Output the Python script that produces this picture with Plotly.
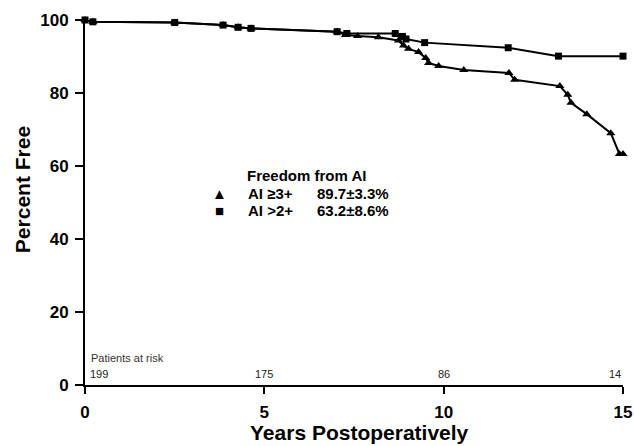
import plotly.graph_objects as go

# Square-marker curve
sq_years = [0, 0.22, 2.5, 3.85, 4.27, 4.63, 7.03, 7.3, 8.65, 8.85, 8.95, 9.47, 11.8, 13.2, 15.0]
sq_free = [100, 99.5, 99.3, 98.6, 98.0, 97.7, 96.8, 96.3, 96.3, 95.5, 94.8, 93.8, 92.4, 90.1, 90.1]

# Triangle-marker curve
tri_years = [0, 0.22, 2.5, 3.85, 4.27, 4.63, 7.03, 7.26, 7.6, 8.18, 8.74, 8.88, 9.02, 9.30,
             9.50, 9.58, 9.86, 10.56, 11.82, 11.98, 13.24, 13.46, 13.55, 13.99, 14.66, 14.9, 15.0]
tri_free = [100, 99.5, 99.3, 98.6, 98.0, 97.7, 96.8, 95.9, 95.6, 95.3, 94.4, 93.0, 92.1, 91.2,
            89.6, 88.2, 87.4, 86.3, 85.5, 83.6, 81.9, 79.5, 77.3, 74.2, 69.0, 63.3, 63.3]

# Patients at risk
risk_years = [0, 5, 10, 15]
risk_counts = ["199", "175", "86", "14"]

x_ticks = [0, 5, 10, 15]
y_ticks = [0, 20, 40, 60, 80, 100]

x_title = "Years Postoperatively"
y_title = "Percent Free"
legend_title = "Freedom from AI"
legend_labels = ["AI ≥3+", "AI >2+"]
legend_values = ["89.7±3.3%", "63.2±8.6%"]
legend_symbols = ["▲", "■"]

FONT = "Liberation Sans, Arial, sans-serif"

fig = go.Figure()
fig.add_trace(go.Scatter(
    x=tri_years, y=tri_free, mode="lines+markers",
    line=dict(color="black", width=2),
    marker=dict(symbol="triangle-up", size=8, color="black"),
    cliponaxis=False, showlegend=False, hoverinfo="skip",
))
fig.add_trace(go.Scatter(
    x=sq_years, y=sq_free, mode="lines+markers",
    line=dict(color="black", width=2),
    marker=dict(symbol="square", size=7, color="black"),
    cliponaxis=False, showlegend=False, hoverinfo="skip",
))

annotations = []
annotations.append(dict(x=0.12, y=7.4, xref="x", yref="y", text="Patients at risk",
                        showarrow=False, xanchor="left", yanchor="middle",
                        font=dict(family=FONT, size=11, color="#333333")))
for i, (rx, rc) in enumerate(zip(risk_years, risk_counts)):
    if i == 0:
        xa, xx = "left", rx + 0.08
    elif i == len(risk_years) - 1:
        xa, xx = "right", rx
    else:
        xa, xx = "center", rx
    annotations.append(dict(x=xx, y=3.0, xref="x", yref="y", text=rc, showarrow=False,
                            xanchor=xa, yanchor="middle",
                            font=dict(family=FONT, size=11, color="#222222")))

annotations.append(dict(x=4.46, y=57.3, xref="x", yref="y", text="<b>" + legend_title + "</b>",
                        showarrow=False, xanchor="left", yanchor="middle",
                        font=dict(family=FONT, size=15, color="black")))
for i in range(2):
    yy = 52.6 - i * 4.7
    annotations.append(dict(x=3.74, y=yy, xref="x", yref="y", text=legend_symbols[i],
                            showarrow=False, xanchor="center", yanchor="middle",
                            font=dict(family=FONT, size=15, color="black")))
    annotations.append(dict(x=4.49, y=yy, xref="x", yref="y", text="<b>" + legend_labels[i] + "</b>",
                            showarrow=False, xanchor="left", yanchor="middle",
                            font=dict(family=FONT, size=15, color="black")))
    annotations.append(dict(x=6.41, y=yy, xref="x", yref="y", text="<b>" + legend_values[i] + "</b>",
                            showarrow=False, xanchor="left", yanchor="middle",
                            font=dict(family=FONT, size=15, color="black")))

# Axis titles placed as annotations (paper coordinates) to match the reference offsets
annotations.append(dict(x=0.511, y=-0.129, xref="paper", yref="paper", text="<b>" + x_title + "</b>",
                        showarrow=False, xanchor="center", yanchor="middle",
                        font=dict(family=FONT, size=21, color="black")))
annotations.append(dict(x=-0.117, y=0.534, xref="paper", yref="paper", text="<b>" + y_title + "</b>",
                        showarrow=False, xanchor="center", yanchor="middle", textangle=-90,
                        font=dict(family=FONT, size=21, color="black")))

fig.update_layout(
    width=634, height=446,
    margin=dict(l=85, r=11, t=20, b=61),
    paper_bgcolor="white", plot_bgcolor="white",
    annotations=annotations,
    hovermode=False,
    xaxis=dict(
        range=[0, 15], tickvals=x_ticks, ticks="outside", ticklen=7, tickwidth=2,
        tickcolor="black", showline=True, linecolor="black", linewidth=2,
        showgrid=False, zeroline=False, automargin=False, ticklabelstandoff=4,
        tickfont=dict(family=FONT, size=17, color="black", weight="bold"),
    ),
    yaxis=dict(
        range=[0, 100], tickvals=y_ticks, ticks="outside", ticklen=8, tickwidth=2,
        tickcolor="black", showline=True, linecolor="black", linewidth=2,
        showgrid=False, zeroline=False, automargin=False, ticklabelstandoff=3,
        tickfont=dict(family=FONT, size=17, color="black", weight="bold"),
    ),
)

# Remove the page's default body margin so the figure fills the 634x446 window exactly
fig.write_html(
    "out.html",
    config={"displayModeBar": False},
    post_script="document.body.style.margin='0';document.body.style.overflow='hidden';",
)
